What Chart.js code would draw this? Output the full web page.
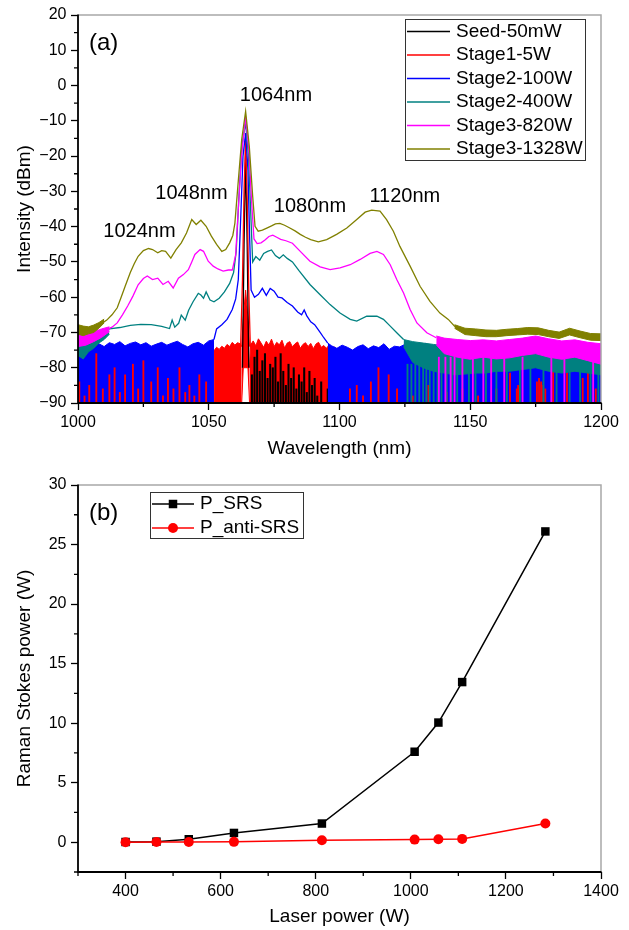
<!DOCTYPE html>
<html><head><meta charset="utf-8">
<script src="https://cdn.jsdelivr.net/npm/chart.js@4.4.0/dist/chart.umd.min.js"></script>
<style>
html,body{margin:0;padding:0;background:#fff;overflow:hidden;}
#wrapA{position:absolute;left:0;top:0;width:629px;height:462px;}
#wrapB{position:absolute;left:0;top:462px;width:629px;height:468px;}
canvas{display:block;}
</style></head><body>
<div id="wrapA"><canvas id="chartA" width="629" height="462"></canvas></div>
<div id="wrapB"><canvas id="chartB" width="629" height="468"></canvas></div>
<script>
// ================= DATA : panel (a) spectra =================
const spectrumNames  = ['Seed-50mW','Stage1-5W','Stage2-100W','Stage2-400W','Stage3-820W','Stage3-1328W'];
const spectrumColors = ['#000000','#ff0000','#0000ff','#008080','#ff00ff','#808000'];
const peakLabels = ['1064nm','1048nm','1024nm','1080nm','1120nm'];

// Stage3-1328W (olive) main trace
const s1328X = [1000,1003,1006,1009,1011,1013,1015,1016.5,1018,1020,1021.5,1023,1025,1027,1028.5,1030.5,1032,1033.5,1035.5,1037.5,1039.5,1041.5,1043.5,1045.2,1047,1049,1051,1053,1055,1056.5,1058,1059.2,1060,1061.3,1062.6,1064.1,1065.5,1066.8,1067.7,1068.9,1070.5,1072.2,1074,1075.5,1077.2,1079,1081,1083,1085,1087,1089,1091.9,1095.1,1098.9,1102.8,1106.6,1109.8,1112.3,1115.5,1118,1120.6,1123.1,1127,1130.8,1134.6,1138.4,1141.6,1144,1148,1152,1156,1160,1164,1168,1172,1176,1180,1184,1188,1192,1196,1200];
const s1328Y = [-69,-69.3,-68.8,-67.5,-66.5,-65,-63,-60,-57,-53,-50.5,-48.4,-46.8,-46.2,-46.5,-47.4,-46.8,-47,-48.9,-46.5,-44.6,-41.8,-38,-39.4,-38.2,-39.9,-42.7,-45,-47,-46.5,-44.6,-42.5,-39,-27,-15.3,-7.3,-17.2,-31.4,-39.9,-41.3,-41,-40.4,-39.8,-39.2,-39.1,-39.6,-40.4,-41.2,-42.2,-43,-43.7,-44.3,-43.7,-42.2,-40.4,-38,-35.9,-35.3,-35.6,-38,-41.3,-45.6,-51.2,-56.9,-61.2,-64.5,-66.3,-68.2,-69.6,-69.9,-70.2,-70.3,-70,-69.8,-69.5,-69.6,-70.3,-70.8,-69.7,-70.5,-71.2,-71.3];
const s1328BandLX = [1000,1002,1004,1006,1008,1010];
const s1328BandLTop = [-67.8,-68.2,-68.4,-67.9,-67.2,-66.2];
const s1328BandLLow = [-70.5,-70.9,-70.4,-70,-68.8,-67.3];
const s1328BandRX = [1144,1148,1152,1156,1160,1164,1168,1172,1176,1180,1184,1188,1192,1196,1200];
const s1328BandRTop = [-67.8,-68.8,-69,-69.3,-69.4,-69.1,-68.9,-68.6,-68.7,-69.4,-69.9,-68.8,-69.6,-70.3,-70.4];
const s1328BandRLow = [-68.8,-70.6,-70.9,-71.2,-71.2,-70.9,-70.7,-70.5,-70.6,-71.2,-71.7,-70.7,-71.5,-72.2,-72.3];

// Stage3-820W (magenta)
const s820X = [1000,1004,1008,1011,1013,1015,1017,1019,1021,1023,1025,1026.5,1028.5,1030.5,1032.5,1034.5,1036.4,1038.4,1040.3,1042.2,1043.5,1044.7,1046.7,1048,1049.8,1051.7,1053.5,1055.5,1057.5,1059,1060.3,1061.3,1062.5,1064.1,1065.4,1066.4,1067.3,1068.5,1070,1071.5,1073,1074.5,1076,1077.5,1079.5,1082,1085,1088.7,1092.6,1096.4,1100.2,1104.1,1107.9,1111.7,1114.3,1116.8,1119.4,1121.9,1124.5,1127,1129.6,1133.4,1137];
const s820Y = [-71.2,-70.8,-70,-69.2,-68.5,-67.3,-65,-62.5,-59.7,-56.5,-54.7,-54,-55,-54.6,-56.4,-55.5,-57.4,-54.6,-53.6,-52.2,-50,-47.9,-46.5,-47,-49.8,-51.2,-52,-52.6,-52.3,-52.3,-48,-35,-20,-8.8,-19,-33,-43.5,-44.8,-44.6,-43.8,-42.8,-42.4,-43,-43.6,-44,-44.7,-47,-49.8,-51.4,-52.2,-51.7,-50.8,-49.3,-47.6,-47,-47.9,-50.8,-55,-58.8,-63.5,-67.3,-70.1,-71.5];
const s820BandLX = [1000,1003,1006,1009,1012];
const s820BandLTop = [-69.8,-70.2,-69.8,-69,-68.4];
const s820BandLLow = [-74,-73.6,-72.6,-71.4,-69.8];
const s820BandRX = [1137,1140,1145,1150,1155,1160,1165,1170,1175,1180,1185,1190,1195,1200];
const s820BandRTop = [-71,-71.6,-72,-72.3,-72.1,-72.4,-72,-71.6,-71,-71.8,-72.4,-72.1,-72.8,-73.2];
const s820BandRLow = [-73.5,-76,-77,-77.6,-77,-77.5,-77.2,-76.5,-76,-77,-77.6,-77,-78,-79];
const s820SpikeX = [1138,1140.5,1142.5,1144,1147,1151,1155,1158,1163,1170,1181,1186,1197];
const s820SpikeTop = [-77,-77,-77,-77,-77,-77,-77,-77,-77,-77,-77,-77,-78];

// Stage2-400W (teal)
const s400X = [1000,1004,1008,1012,1016,1020,1024,1028,1032,1035,1036,1037,1038.5,1039.5,1041,1042.3,1044,1046,1047,1048,1049,1050.5,1052,1054,1056,1058,1059.5,1060.5,1061.5,1062.7,1064.1,1065.2,1066,1066.8,1068,1069.5,1071,1072.5,1074,1075.5,1077,1078.5,1080,1082,1084.5,1088.7,1092.6,1096.4,1100.2,1104.1,1106.6,1110.4,1114.3,1116.8,1119.4,1121.9,1124.5];
const s400Y = [-71,-70.5,-69.8,-69,-68.6,-68,-67.7,-67.8,-68.3,-68.9,-66.5,-68.5,-67.4,-65.1,-66.5,-63.7,-61.3,-58.9,-59.4,-60.3,-58.5,-60.8,-61.3,-60.3,-58.5,-56.1,-53,-47,-32,-17,-10.5,-20,-35,-50,-48.5,-49.5,-47.6,-47,-46.6,-48.2,-49,-48,-49,-50,-52.5,-56.4,-59.3,-62.1,-64.5,-66.3,-66.8,-65.4,-65.4,-66.3,-68.2,-70.1,-72];
const s400BandLX = [1000,1002,1004,1006,1008,1010,1012];
const s400BandLTop = [-70.3,-70.6,-70.1,-69.9,-69.5,-69.3,-68.8];
const s400BandLLow = [-76.5,-77.5,-75.5,-74.5,-73,-72,-70.5];
const s400BandRX = [1124.5,1128,1132,1136,1140,1144,1148,1152,1156,1160,1165,1170,1175,1180,1185,1190,1195,1200];
const s400BandRTop = [-72,-72.6,-73,-73.4,-73.8,-74.2,-74.4,-74.6,-74.7,-74.5,-74.4,-74.2,-74,-74.5,-74.9,-74.7,-75,-75.2];
const s400BandRLow = [-74,-78.5,-80,-81,-81.5,-82,-81.8,-81.5,-81.5,-81,-81,-80.5,-80,-81,-81.5,-81,-81.5,-82];
const s400SpikeX = [1126,1127.5,1129,1130.5,1132,1133.2,1134.5,1136,1137.5,1139,1141,1143,1145,1147,1149.5,1152,1156,1160,1164,1169,1173,1178,1183,1188,1192,1196,1199];
const s400SpikeTop = [-79,-79,-79,-79,-79,-79,-79,-79,-79,-79,-79,-79,-79,-79,-79,-79,-79,-79,-79,-79,-79,-79,-79,-79,-79,-79,-79];

// Stage2-100W (blue)
const s100X = [1052,1053,1055,1057,1059,1060.3,1061.3,1062.2,1063.1,1064.1,1065,1065.6,1066.2,1067.5,1069,1070.5,1072,1073.5,1075,1076.5,1078,1080,1082,1084,1085.5,1086.5,1087.5,1089,1090.5,1092.6,1094,1095.5];
const s100Y = [-72,-69,-67.8,-66.3,-63.5,-60.5,-55,-38,-20,-13.5,-24,-42,-58,-60,-59.2,-57.5,-59.5,-57.5,-58.3,-60,-60.2,-61.5,-62.5,-64.2,-65,-63.6,-65.3,-67,-67.8,-70,-71.5,-73];
const s100BandLX = [1000,1002,1004,1006,1008,1010,1012,1014,1016,1018,1020,1022,1024,1026,1028,1030,1032,1034,1036,1038,1040,1042,1044,1046,1048,1050,1052];
const s100BandLTop = [-73.5,-72.8,-73.6,-72.5,-73.2,-74,-72.9,-73.4,-72.6,-73.8,-73.1,-72.7,-73.5,-72.9,-73.9,-73.3,-72.8,-73.6,-73,-72.5,-73.4,-74.1,-73.2,-72.8,-73.6,-72.4,-72];
const s100BandRX = [1095.5,1097,1099,1101,1103,1105,1107,1109,1111,1113,1115,1117,1119,1121,1123,1125,1127,1129,1131,1133,1135,1137,1139,1141,1143,1145,1147,1149,1151,1153,1155,1157,1159,1161,1163,1165,1167,1169,1171,1173,1175,1177,1179,1181,1183,1185,1187,1189,1191,1193,1195,1197,1199,1200];
const s100BandRTop = [-73,-73.8,-74.5,-73.6,-74.2,-75,-74,-73.5,-74.6,-73.8,-74.3,-73.2,-74.8,-73.9,-74.1,-73.4,-74.7,-73.6,-74,-73.1,-74.4,-73.7,-74.9,-73.5,-74.2,-73.3,-74.6,-73.8,-74,-73.2,-74.5,-73.9,-74.3,-73.4,-74.8,-73.6,-74.1,-73.5,-74.4,-73.7,-74.6,-73.3,-74,-73.8,-74.5,-73.4,-74.2,-73.6,-74.7,-73.9,-74.3,-73.5,-74.1,-73.8];

// Stage1-5W (red)
const s5X = [1062.2,1062.9,1063.5,1064.1,1064.7,1065.3,1065.9];
const s5Y = [-74,-55,-30,-15,-32,-58,-74];
const s5Band1X = [1052,1052.2,1053,1054,1055,1056,1057,1058,1059,1060,1061,1062,1062.6];
const s5Band1Top = [-95,-75,-74.2,-74.8,-73.9,-74.5,-73.4,-74,-72.8,-73.6,-72.9,-73.2,-74];
const s5PeakBaseX = [1062.6,1063.2,1064.1,1065.0,1065.6];
const s5PeakBaseTop = [-74,-66,-58,-66,-74];
const s5PeakBaseLow = [-90,-80,-80,-80,-90];
const s5Band2X = [1065.6,1066,1067,1068,1069,1070,1071,1072,1073,1074,1075,1076,1077,1078,1079,1080,1081,1082,1083,1084,1085,1086,1087,1088,1089,1090,1091,1092,1093,1094,1095,1096,1097,1098,1099,1100,1101,1102,1102.3];
const s5Band2Top = [-80,-73.5,-72.4,-73.8,-71.8,-73,-74.2,-72.5,-73.6,-71.9,-74,-72.8,-73.5,-72.2,-74.4,-73,-72.6,-74.1,-73.2,-72.7,-74.5,-73.4,-72.9,-74,-73.1,-74.6,-73.3,-72.8,-74.2,-73.7,-74.5,-73.6,-75,-74.1,-74.8,-75.3,-74.6,-76,-95];
const s5SpikeX = [1000.5,1002.5,1004.3,1007,1009.5,1012,1014,1016,1018,1021,1023,1025,1028,1030.5,1032.5,1034.4,1036.5,1038.8,1041,1042.6,1044.5,1046.4,1049,1104,1106.6,1109,1112,1114.9,1118.8,1122,1128,1134,1141,1147,1153,1160,1165.2,1167.8,1168.3,1168.8,1175.5,1176.3,1177.1,1177.9,1178.7,1181.7,1187,1193,1195,1198];
const s5SpikeTop = [-84,-88,-85,-76,-86,-82,-80,-87,-82,-79,-86,-78,-84,-80,-88,-83,-86,-80,-87,-85,-88,-82,-84,-86,-85,-88,-84,-80,-82,-86,-88,-85,-87,-86,-88,-86,-81.5,-86,-85,-86,-84,-83,-84,-85,-86,-78,-80,-83,-79,-86];

// Seed-50mW (black)
const seedX = [1062.9,1063.5,1064.1,1064.7,1065.3];
const seedY = [-80,-45,-20,-45,-80];
const seedSpikeX = [1066.5,1067.5,1068.5,1069.5,1070.5,1071.5,1072.5,1073.5,1074.5,1075.5,1076.5,1077.5,1078.5,1079.5,1080.5,1081.5,1082.5,1083.5,1084.5,1085.5,1086.5,1087.5,1088.5,1089.5,1090.5,1091.5,1093,1095.5,1098,1101];
const seedSpikeTop = [-82,-77,-75,-81,-78,-76,-83,-79,-80,-77,-84,-76,-81,-85,-79,-83,-80,-86,-82,-84,-80,-87,-81,-85,-83,-88,-84,-86,-85,-87];

// ================= DATA : panel (b) =================
const laserPower = [400,465,533,628,813,1008,1058,1108,1283];
const pSRS       = [0.02,0.05,0.25,0.78,1.57,7.6,10.05,13.45,26.1];
const pAntiSRS   = [0.0,0.02,0.02,0.03,0.17,0.22,0.25,0.28,1.57];
const seriesB = ['P_SRS','P_anti-SRS'];

// ================= helpers =================
const FONT = "'Liberation Sans', Arial, Helvetica, sans-serif";
const pts  = (xs, ys) => xs.map((x, i) => ({x: x, y: ys[i]}));
const bars = (xs, tops) => xs.map((x, i) => ({x: x, y: [-90, tops[i]]}));
const minusFmt = v => (v < 0 ? '\u2212' + Math.abs(v) : String(v));
const plainFmt = v => String(v);

const dsA = [];
function addTrace(xs, ys, color, order, w) {
  dsA.push({type:'line', data: pts(xs, ys), borderColor: color, backgroundColor: color,
    borderWidth: w || 1.3, pointRadius: 0, tension: 0, fill: false, order: order, clip: 0});
  return dsA.length - 1;
}
function addBandToBottom(xs, tops, color, order) {
  dsA.push({type:'line', data: pts(xs, tops), borderColor: color, backgroundColor: color,
    borderWidth: 1, pointRadius: 0, tension: 0, fill: 'start', order: order, clip: 0});
}
function addBand(xs, tops, lows, color, order) {
  const ti = addTrace(xs, tops, color, order, 1);
  dsA.push({type:'line', data: pts(xs, lows), borderColor: color, backgroundColor: color,
    borderWidth: 1, pointRadius: 0, tension: 0, fill: {target: ti}, order: order, clip: 0});
}
function addSpikes(xs, tops, color, order, thick) {
  dsA.push({type:'bar', data: bars(xs, tops), backgroundColor: color, borderWidth: 0,
    barThickness: thick || 1.3, grouped: false, order: order, clip: 0});
}
const [cSeed, cS5, cS100, cS400, cS820, cS1328] = spectrumColors;
// bottom -> top (higher order drawn first)
addBandToBottom(s5Band1X, s5Band1Top, cS5, 30);
addBandToBottom(s5Band2X, s5Band2Top, cS5, 30);
addBand(s5PeakBaseX, s5PeakBaseTop, s5PeakBaseLow, cS5, 30);
addTrace(seedX, seedY, cSeed, 29);
addSpikes(seedSpikeX, seedSpikeTop, cSeed, 28, 1.4);
addTrace(s5X, s5Y, cS5, 27);
addBandToBottom(s100BandLX, s100BandLTop, cS100, 26);
addBandToBottom(s100BandRX, s100BandRTop, cS100, 26);
addTrace(s100X, s100Y, cS100, 25);
addSpikes(s5SpikeX, s5SpikeTop, cS5, 24, 1.2);
addBand(s400BandLX, s400BandLTop, s400BandLLow, cS400, 23);
addBand(s400BandRX, s400BandRTop, s400BandRLow, cS400, 23);
addSpikes(s400SpikeX, s400SpikeTop, cS400, 22, 1.2);
addTrace(s400X, s400Y, cS400, 21);
addBand(s820BandLX, s820BandLTop, s820BandLLow, cS820, 20);
addBand(s820BandRX, s820BandRTop, s820BandRLow, cS820, 20);
addSpikes(s820SpikeX, s820SpikeTop, cS820, 19, 1.2);
addTrace(s820X, s820Y, cS820, 18);
addBand(s1328BandLX, s1328BandLTop, s1328BandLLow, cS1328, 17);
addBand(s1328BandRX, s1328BandRTop, s1328BandRLow, cS1328, 17);
addTrace(s1328X, s1328Y, cS1328, 16);

// ================= plugins =================
const decor = {
  id: 'decor',
  afterDatasetsDraw(chart, args, o) {
    const {ctx, chartArea: ca, scales} = chart;
    ctx.save();
    ctx.lineWidth = 1.5;
    ctx.strokeStyle = '#a8a8a8';
    ctx.beginPath(); ctx.moveTo(ca.left, ca.top); ctx.lineTo(ca.right, ca.top); ctx.lineTo(ca.right, ca.bottom); ctx.stroke();
    ctx.strokeStyle = '#000';
    ctx.lineWidth = 1.8;
    ctx.beginPath(); ctx.moveTo(ca.left, ca.top - 0.5); ctx.lineTo(ca.left, ca.bottom); ctx.lineTo(ca.right + 0.5, ca.bottom); ctx.stroke();
    ctx.lineWidth = 1.3;
    ctx.beginPath();
    o.xMinor.forEach(v => { const p = scales.x.getPixelForValue(v); ctx.moveTo(p, ca.bottom); ctx.lineTo(p, ca.bottom + 4); });
    o.yMinor.forEach(v => { const p = scales.y.getPixelForValue(v); ctx.moveTo(ca.left - 4, p); ctx.lineTo(ca.left, p); });
    ctx.stroke();
    ctx.fillStyle = '#000';
    ctx.textBaseline = 'middle';
    (o.texts || []).forEach(t => {
      ctx.font = t.size + 'px ' + FONT;
      ctx.textAlign = t.align || 'center';
      const px = t.px !== undefined ? t.px : scales.x.getPixelForValue(t.x);
      const py = t.py !== undefined ? t.py : scales.y.getPixelForValue(t.y);
      ctx.fillText(t.text, px, py);
    });
    const L = o.legend;
    if (L) {
      ctx.lineWidth = 1; ctx.strokeStyle = '#333';
      ctx.strokeRect(L.left + 0.5, L.top + 0.5, L.right - L.left, L.bottom - L.top);
      ctx.font = L.size + 'px ' + FONT; ctx.textAlign = 'left'; ctx.textBaseline = 'middle';
      L.items.forEach((it, i) => {
        const y = L.firstY + i * L.rowH;
        ctx.strokeStyle = it.color; ctx.lineWidth = 1.5;
        ctx.beginPath(); ctx.moveTo(L.lineX0, y); ctx.lineTo(L.lineX1, y); ctx.stroke();
        if (it.marker) {
          ctx.fillStyle = it.color;
          const mx = (L.lineX0 + L.lineX1) / 2;
          if (it.marker === 'rect') ctx.fillRect(mx - 4.25, y - 4.25, 8.5, 8.5);
          else { ctx.beginPath(); ctx.arc(mx, y, 5, 0, Math.PI * 2); ctx.fill(); }
        }
        ctx.fillStyle = '#000';
        ctx.fillText(it.label, L.textX, y);
      });
    }
    ctx.restore();
  }
};

function axisCommon(extra) {
  return Object.assign({
    type: 'linear', offset: false,
    border: {display: false},
    grid: {display: true, drawOnChartArea: false, drawTicks: true, tickLength: 7, tickColor: '#000', tickWidth: 1.3, offset: false},
  }, extra);
}

// ================= chart (a) =================
new Chart(document.getElementById('chartA'), {
  type: 'line',
  data: {datasets: dsA},
  options: {
    responsive: false, animation: false, events: [],
    layout: {padding: {top: 15, right: 28, left: 0, bottom: 2}},
    plugins: {
      legend: {display: false}, tooltip: {enabled: false},
      decor: {
        xMinor: [1025,1075,1125,1175],
        yMinor: [-85,-75,-65,-55,-45,-35,-25,-15,-5,5,15],
        texts: [
          {text: '(a)', px: 89, py: 43, size: 24, align: 'left'},
          {text: peakLabels[0], x: 1075.7, y: -2.8, size: 20},
          {text: peakLabels[1], x: 1043.4, y: -30.6, size: 20},
          {text: peakLabels[2], x: 1023.5, y: -41.3, size: 20},
          {text: peakLabels[3], x: 1088.7, y: -34.3, size: 20},
          {text: peakLabels[4], x: 1125.0, y: -31.5, size: 20}
        ],
        legend: {
          left: 405, top: 19, right: 585, bottom: 160, size: 19,
          firstY: 31.5, rowH: 23.5, lineX0: 407, lineX1: 450, textX: 456,
          items: spectrumNames.map((n, i) => ({label: n, color: spectrumColors[i]}))
        }
      }
    },
    scales: {
      x: axisCommon({
        min: 1000, max: 1200,
        ticks: {stepSize: 50, includeBounds: false, autoSkip: false, maxRotation: 0, padding: 3, color: '#000', font: {family: FONT, size: 16}, callback: v => plainFmt(v)},
        title: {display: true, text: 'Wavelength (nm)', color: '#000', font: {family: FONT, size: 19}, padding: {top: 0, bottom: 0}},
        afterFit: s => { s.height = 57; }
      }),
      y: axisCommon({
        min: -90, max: 20,
        ticks: {stepSize: 10, includeBounds: false, autoSkip: false, padding: 4.5, color: '#000', font: {family: FONT, size: 16}, callback: v => minusFmt(v)},
        title: {display: true, text: 'Intensity (dBm)', color: '#000', font: {family: FONT, size: 19}, padding: {top: 13.6, bottom: 0}},
        afterFit: s => { s.width = 78; }
      })
    }
  },
  plugins: [decor]
});

// ================= chart (b) =================
new Chart(document.getElementById('chartB'), {
  type: 'line',
  data: {
    datasets: [
      {label: seriesB[0], data: pts(laserPower, pSRS), borderColor: '#000', backgroundColor: '#000',
       borderWidth: 1.5, pointStyle: 'rect', pointRadius: 6, pointBorderWidth: 0, tension: 0, order: 2, clip: false},
      {label: seriesB[1], data: pts(laserPower, pAntiSRS), borderColor: '#ff0000', backgroundColor: '#ff0000',
       borderWidth: 1.5, pointStyle: 'circle', pointRadius: 5, pointBorderWidth: 0, tension: 0, order: 1, clip: false}
    ]
  },
  options: {
    responsive: false, animation: false, events: [],
    layout: {padding: {top: 23, right: 28, left: 0, bottom: 2}},
    plugins: {
      legend: {display: false}, tooltip: {enabled: false},
      decor: {
        xMinor: [300,500,700,900,1100,1300],
        yMinor: [-2.5,2.5,7.5,12.5,17.5,22.5,27.5],
        texts: [{text: '(b)', px: 89, py: 51, size: 24, align: 'left'}],
        legend: {
          left: 150, top: 30, right: 303, bottom: 76, size: 19,
          firstY: 42, rowH: 24, lineX0: 152, lineX1: 194, textX: 200,
          items: [{label: seriesB[0], color: '#000', marker: 'rect'}, {label: seriesB[1], color: '#ff0000', marker: 'circle'}]
        }
      }
    },
    scales: {
      x: axisCommon({
        min: 300, max: 1400,
        ticks: {stepSize: 200, includeBounds: false, autoSkip: false, maxRotation: 0, padding: 3, color: '#000', font: {family: FONT, size: 16}, callback: v => plainFmt(v)},
        title: {display: true, text: 'Laser power (W)', color: '#000', font: {family: FONT, size: 19}, padding: {top: 0, bottom: 0}},
        afterFit: s => { s.height = 56; }
      }),
      y: axisCommon({
        min: -2.5, max: 30,
        ticks: {stepSize: 5, includeBounds: false, autoSkip: false, padding: 4.5, color: '#000', font: {family: FONT, size: 16}, callback: v => plainFmt(v)},
        title: {display: true, text: 'Raman Stokes power (W)', color: '#000', font: {family: FONT, size: 19}, padding: {top: 13.6, bottom: 0}},
        afterFit: s => { s.width = 78; }
      })
    }
  },
  plugins: [decor]
});
</script>
</body></html>
